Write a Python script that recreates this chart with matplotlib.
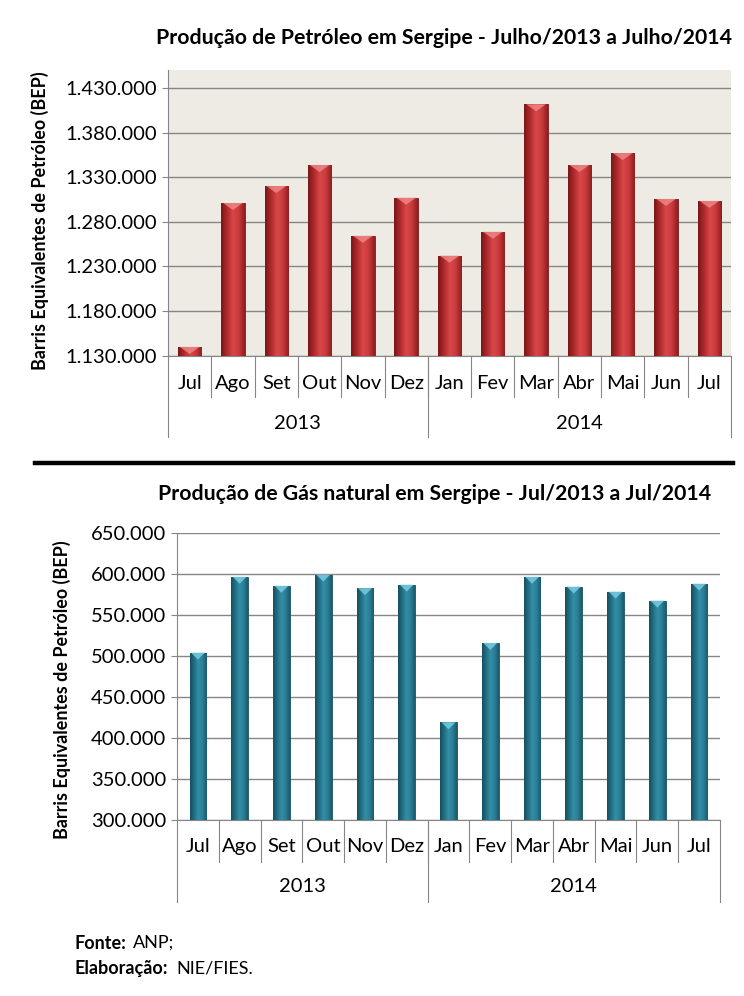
import numpy as np
import matplotlib
matplotlib.use("Agg")
import matplotlib.pyplot as plt
from matplotlib.colors import LinearSegmentedColormap
from matplotlib.lines import Line2D
from matplotlib.patches import Polygon
import matplotlib.transforms as mtransforms

plt.rcParams['font.family'] = ['Liberation Sans Narrow', 'Lato', 'DejaVu Sans']

meses = ["Jul", "Ago", "Set", "Out", "Nov", "Dez", "Jan", "Fev", "Mar", "Abr", "Mai", "Jun", "Jul"]
anos = ["2013", "2014"]
meses_por_ano = [6, 7]

petroleo = [1139700, 1301000, 1320000, 1343600, 1264300, 1307000,
            1242000, 1268800, 1411700, 1343600, 1357000, 1305600, 1303400]
gas = [504500, 597000, 586000, 599600, 583000, 587400,
       419500, 516300, 597000, 585000, 578900, 568000, 588600]

titulo_pet = "Produção de Petróleo em Sergipe - Julho/2013 a Julho/2014"
titulo_gas = "Produção de Gás natural em Sergipe - Jul/2013 a Jul/2014"
ylabel = "Barris Equivalentes de Petróleo (BEP)"


def fmt(v):
    return f"{v:,.0f}".replace(",", ".")


def barras(ax, valores, largura, cores, ylim, ticks, fundo):
    x = np.arange(len(valores))
    ax.set_facecolor(fundo)
    bars = ax.bar(x, np.array(valores) - ylim[0], width=largura, bottom=ylim[0],
                  color=cores[2], edgecolor=cores[0], linewidth=0.6, zorder=3)
    cmap = LinearSegmentedColormap.from_list("b", cores[:-1])
    grad = np.linspace(0, 1, 64).reshape(1, -1)
    # altura de ~7 px em unidades de dados para o chanfro
    h_px = ax.get_position().height * ax.figure.get_figheight() * ax.figure.dpi
    bevel = 7 * (ylim[1] - ylim[0]) / h_px
    for r in bars:
        x0, w = r.get_x(), r.get_width()
        y1 = r.get_y() + r.get_height()
        im = ax.imshow(grad, extent=[x0, x0 + w, ylim[0], y1], aspect="auto",
                       cmap=cmap, zorder=3.5, interpolation="bicubic")
        im.set_clip_path(r)
        b = min(bevel, r.get_height())
        tri = Polygon([[x0 + w * 0.08, y1], [x0 + w * 0.92, y1], [x0 + w / 2, y1 - b]],
                      closed=True, facecolor=cores[-1], edgecolor="none", alpha=0.8, zorder=4)
        ax.add_patch(tri)
    ax.set_xlim(-0.5, len(valores) - 0.5)
    ax.set_ylim(*ylim)
    ax.set_yticks(ticks)
    ax.set_yticklabels([fmt(t) for t in ticks], fontsize=14.5)
    ax.yaxis.grid(True, color="#868686", linewidth=1.0, zorder=1)
    ax.set_axisbelow(True)
    ax.tick_params(axis="y", length=4, color="#868686", pad=4)
    ax.tick_params(axis="x", length=0, labelbottom=False)
    for s in ["top", "right"]:
        ax.spines[s].set_visible(False)
    ax.spines["left"].set_color("#868686")
    ax.spines["bottom"].set_color("#868686")


def eixo_categorias(ax, y_mes, y_ano, y_sep, y_sep2):
    tr = mtransforms.blended_transform_factory(ax.transData, ax.transAxes)
    n = len(meses)
    for i, m in enumerate(meses):
        ax.text(i, y_mes, m, transform=tr, ha="center", va="center", fontsize=14.5)
    for i in range(1, n):
        ax.add_line(Line2D([i - 0.5, i - 0.5], [0, y_sep], transform=tr, color="#868686",
                           linewidth=0.8, clip_on=False))
    ini = 0
    bordas = [-0.5]
    for ano, k in zip(anos, meses_por_ano):
        ax.text(ini + (k - 1) / 2, y_ano, ano, transform=tr, ha="center", va="center", fontsize=14.5)
        ini += k
        bordas.append(ini - 0.5)
    for b in bordas:
        ax.add_line(Line2D([b, b], [0, y_sep2], transform=tr, color="#868686",
                           linewidth=0.8, clip_on=False))


fig = plt.figure(figsize=(7.44, 9.96), dpi=100)

ax1 = fig.add_axes([0.2258, 0.643, 0.7567, 0.2866])
barras(ax1, petroleo, 0.54, ["#7A1618", "#B02A2C", "#D94749", "#C93A3C", "#8E1E20", "#F08A8A"],
       (1130000, 1450000), np.arange(1130000, 1430001, 50000), "#EDEBE3")
eixo_categorias(ax1, -0.098, -0.239, -0.144, -0.284)
fig.text(40 / 744, 1 - 221 / 996, ylabel, rotation=90, ha="center", va="center",
         fontsize=12.9, fontweight="bold")
fig.text(444 / 744, 1 - 38 / 996, titulo_pet, ha="center", va="center", fontsize=15.3,
         fontweight="bold")

ax2 = fig.add_axes([0.2379, 0.1764, 0.7298, 0.2882])
barras(ax2, gas, 0.40, ["#174F5E", "#236F84", "#3490A8", "#2B7F96", "#1B5A6B", "#7CCFE6"],
       (300000, 650000), np.arange(300000, 650001, 50000), "white")
eixo_categorias(ax2, -0.09, -0.23, -0.146, -0.285)
fig.text(62 / 744, 1 - 690 / 996, ylabel, rotation=90, ha="center", va="center",
         fontsize=12.9, fontweight="bold")
fig.text(435 / 744, 1 - 494 / 996, titulo_gas, ha="center", va="center", fontsize=15.3,
         fontweight="bold")

# linha separadora
fig.add_artist(Line2D([35 / 744, 733 / 744], [1 - 463 / 996, 1 - 463 / 996],
                      transform=fig.transFigure, color="black", linewidth=3.2))

fig.text(75 / 744, 1 - 943 / 996, "Fonte:", ha="left", va="center", fontsize=13,
         fontweight="bold")
fig.text(133 / 744, 1 - 943 / 996, "ANP;", ha="left", va="center", fontsize=13)
fig.text(75 / 744, 1 - 968 / 996, "Elaboração:", ha="left", va="center", fontsize=13,
         fontweight="bold")
fig.text(176 / 744, 1 - 968 / 996, "NIE/FIES.", ha="left", va="center", fontsize=13)

fig.savefig("out.png", dpi=100)
